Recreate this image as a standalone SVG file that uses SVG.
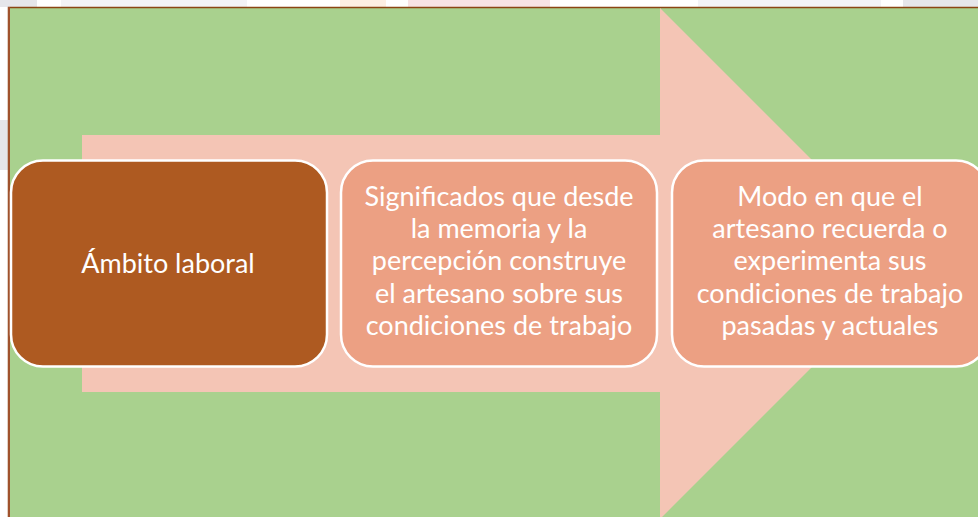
<svg xmlns="http://www.w3.org/2000/svg" width="978" height="517" viewBox="0 0 978 517">
<style>
.box{stroke:#FFFFFF;stroke-width:2.5}
.lt{fill:#FFFFFF;font-family:Lato,"Liberation Sans",sans-serif;font-size:27px;text-anchor:middle}
</style>
<rect x="0" y="0" width="978" height="517" fill="#FFFFFF"/>
<rect x="0" y="0" width="37" height="7" fill="#E6E6EA"/>
<rect x="61" y="0" width="186" height="7" fill="#F3F3F6"/>
<rect x="340" y="0" width="46" height="7" fill="#FDEFE3"/>
<rect x="408" y="0" width="142" height="7" fill="#F8E3E4"/>
<rect x="698" y="0" width="183" height="7" fill="#F3F3F6"/>
<rect x="903" y="0" width="75" height="7" fill="#E6E6EA"/>
<rect x="0" y="120" width="8" height="50" fill="#E6E6EA"/>
<rect x="8" y="7" width="970" height="510" fill="#A9D18E"/>
<path d="M8.5,517 V7.5 H978" fill="none" stroke="#8B4513" stroke-width="1.5"/>
<rect x="8" y="7" width="2" height="510" fill="#A0522D"/>
<g id="arrow">
<polygon points="82,135 660,135 660,8 915.5,263.5 660,519 660,392 82,392" fill="#F4C5B5"/>
</g>
<g id="node1">
<rect class="box" x="11" y="160.5" width="316" height="206" rx="32" fill="#AE5A21"/>
<text class="lt" x="168" y="273">Ámbito laboral</text>
</g>
<g id="node2">
<rect class="box" x="341" y="160.5" width="316" height="206" rx="32" fill="#ECA083"/>
<text class="lt" x="499" y="206">Significados que desde</text>
<text class="lt" x="499" y="238">la memoria y la</text>
<text class="lt" x="499" y="270">percepción construye</text>
<text class="lt" x="499" y="303">el artesano sobre sus</text>
<text class="lt" x="499" y="335">condiciones de trabajo</text>
</g>
<g id="node3">
<rect class="box" x="672" y="160.5" width="316" height="206" rx="32" fill="#ECA083"/>
<text class="lt" x="830" y="206">Modo en que el</text>
<text class="lt" x="830" y="238">artesano recuerda o</text>
<text class="lt" x="830" y="270">experimenta sus</text>
<text class="lt" x="830" y="303">condiciones de trabajo</text>
<text class="lt" x="830" y="335">pasadas y actuales</text>
</g>
<g id="connectors"></g>
</svg>
